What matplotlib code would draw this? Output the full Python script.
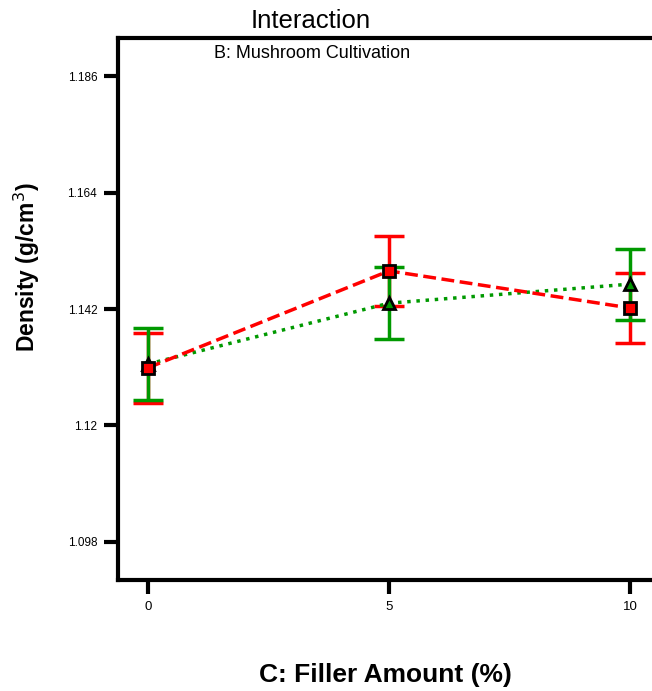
import matplotlib.pyplot as plt

plt.rcParams['font.family'] = ['Liberation Sans', 'DejaVu Sans']

filler = [0, 5, 10]
# red series (squares, dashed)
red_y = [1.1309, 1.1492, 1.1422]
red_err = [0.0066, 0.0066, 0.0066]
# green series (triangles, dotted)
green_y = [1.1316, 1.1431, 1.1467]
green_err = [0.0068, 0.0068, 0.0067]

fig = plt.figure(figsize=(6.52, 6.91), dpi=100)
ax = fig.add_axes([0.181, 0.1606, 0.819, 0.7844])

# error bars first, green over red
ax.errorbar(filler, red_y, yerr=red_err, color='#ff0000', ls='none',
            capsize=11, capthick=2.5, elinewidth=2.5, zorder=2)
ax.errorbar(filler, green_y, yerr=green_err, color='#009900', ls='none',
            capsize=11, capthick=2.5, elinewidth=2.5, zorder=2)
# lines and markers
ax.plot(filler, green_y, color='#009900', lw=2.5, ls=':',
        marker='^', ms=9, mfc='#009900', mec='black', mew=2, zorder=3)
ax.plot(filler, red_y, color='#ff0000', lw=2.5, ls='--',
        marker='s', ms=8, mfc='#ff0000', mec='black', mew=2, zorder=4)

ax.set_xlim(-0.622, 10.456)
ax.set_ylim(1.0908, 1.1932)
ax.set_xticks([0, 5, 10])
ax.set_xticklabels(['0', '5', '10'])
ax.set_yticks([1.098, 1.12, 1.142, 1.164, 1.186])
ax.set_yticklabels(['1.098', '1.12', '1.142', '1.164', '1.186'])
ax.tick_params(direction='out', length=10, width=3, labelsize=8.5, pad=5)
ax.tick_params(axis='x', labelsize=9.5)

for s in ['left', 'top', 'bottom']:
    ax.spines[s].set_linewidth(3)
ax.spines['right'].set_visible(False)

fig.text(0.477, 0.969, 'Interaction', ha='center', va='center', fontsize=18.5)
ax.text(0.363, 0.988, 'B: Mushroom Cultivation', transform=ax.transAxes,
        ha='center', va='top', fontsize=13)
ax.set_xlabel('C: Filler Amount (%)', fontsize=19, fontweight='bold', labelpad=36)
ax.set_ylabel('Density (g/cm$^3$)', fontsize=16.5, fontweight='bold')
ax.yaxis.set_label_coords(-0.142, 0.578)

fig.savefig('out.png', dpi=100)
